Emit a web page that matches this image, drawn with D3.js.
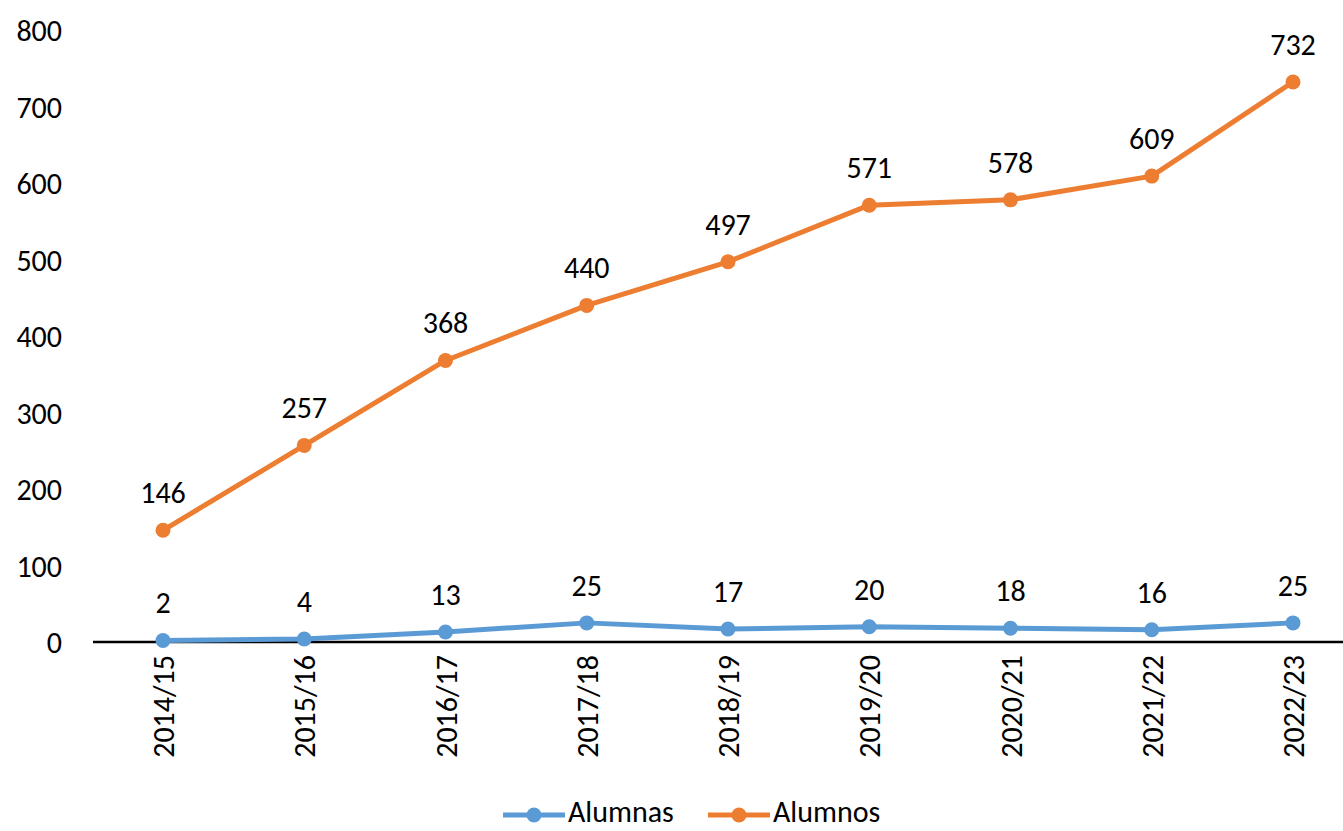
<!DOCTYPE html>
<html><head><meta charset="utf-8">
<script src="https://cdn.jsdelivr.net/npm/d3@7"></script>
<style>body{margin:0;background:#fff;} text{font-family:Carlito, Lato, sans-serif; fill:#000;}</style>
</head><body>
<svg id="c" width="1343" height="831"></svg>
<script>
const categories = ["2014/15","2015/16","2016/17","2017/18","2018/19","2019/20","2020/21","2021/22","2022/23"];
const alumnas = [2,4,13,25,17,20,18,16,25];
const alumnos = [146,257,368,440,497,571,578,609,732];
const yTicks = [0,100,200,300,400,500,600,700,800];
const seriesNames = ["Alumnas","Alumnos"];
const colors = ["#5B9BD5","#ED7D31"];

const svg = d3.select("#c");
const fs = 30;
const x = d3.scalePoint().domain(categories).range([163,1293]);
const y = d3.scaleLinear().domain([0,800]).range([642,30]);

// y labels
const yAxis = d3.axisLeft(y).tickValues(yTicks).tickSize(0).tickPadding(0);
const gy = svg.append("g").attr("transform","translate(62,0)").call(yAxis);
gy.select(".domain").remove();
gy.selectAll("text").style("font-size",fs+"px").attr("font-family",null).attr("dy","0.35em");

// x axis
const xAxis = d3.axisBottom(x).tickSize(0).tickPadding(0);
const gx = svg.append("g").attr("transform","translate(0,642)").call(xAxis);
gx.select(".domain").remove();
gx.selectAll("text").style("font-size",fs+"px").attr("font-family",null)
  .attr("text-anchor","end").attr("transform","translate(0,13) rotate(-90)")
  .attr("x",0).attr("y",0).attr("dy","0.35em");
svg.append("line").attr("x1",93).attr("x2",1343).attr("y1",642).attr("y2",642)
  .attr("stroke","#000").attr("stroke-width",2.5);

const series = [alumnas, alumnos];
series.forEach((vals,i)=>{
  const line = d3.line().x((d,j)=>x(categories[j])).y(d=>y(d));
  svg.append("path").datum(vals).attr("d",line).attr("fill","none")
    .attr("stroke",colors[i]).attr("stroke-width",5).attr("stroke-linejoin","round");
  svg.append("g").selectAll("circle").data(vals).join("circle")
    .attr("cx",(d,j)=>x(categories[j])).attr("cy",d=>y(d)).attr("r",7.5).attr("fill",colors[i]);
  svg.append("g").selectAll("text").data(vals).join("text")
    .attr("x",(d,j)=>x(categories[j])).attr("y",d=>y(d)-27)
    .attr("text-anchor","middle").style("font-size",fs+"px").text(d=>d);
});

// legend
const legX = [503, 708];
const legY = 811;
seriesNames.forEach((n,i)=>{
  const g = svg.append("g");
  g.append("line").attr("x1",legX[i]).attr("x2",legX[i]+62).attr("y1",legY+4).attr("y2",legY+4)
    .attr("stroke",colors[i]).attr("stroke-width",5);
  g.append("circle").attr("cx",legX[i]+31).attr("cy",legY+4).attr("r",7.5).attr("fill",colors[i]);
  g.append("text").attr("x",legX[i]+65).attr("y",legY).attr("dy","0.35em").style("font-size",fs+"px").text(n);
});
</script>
</body></html>
